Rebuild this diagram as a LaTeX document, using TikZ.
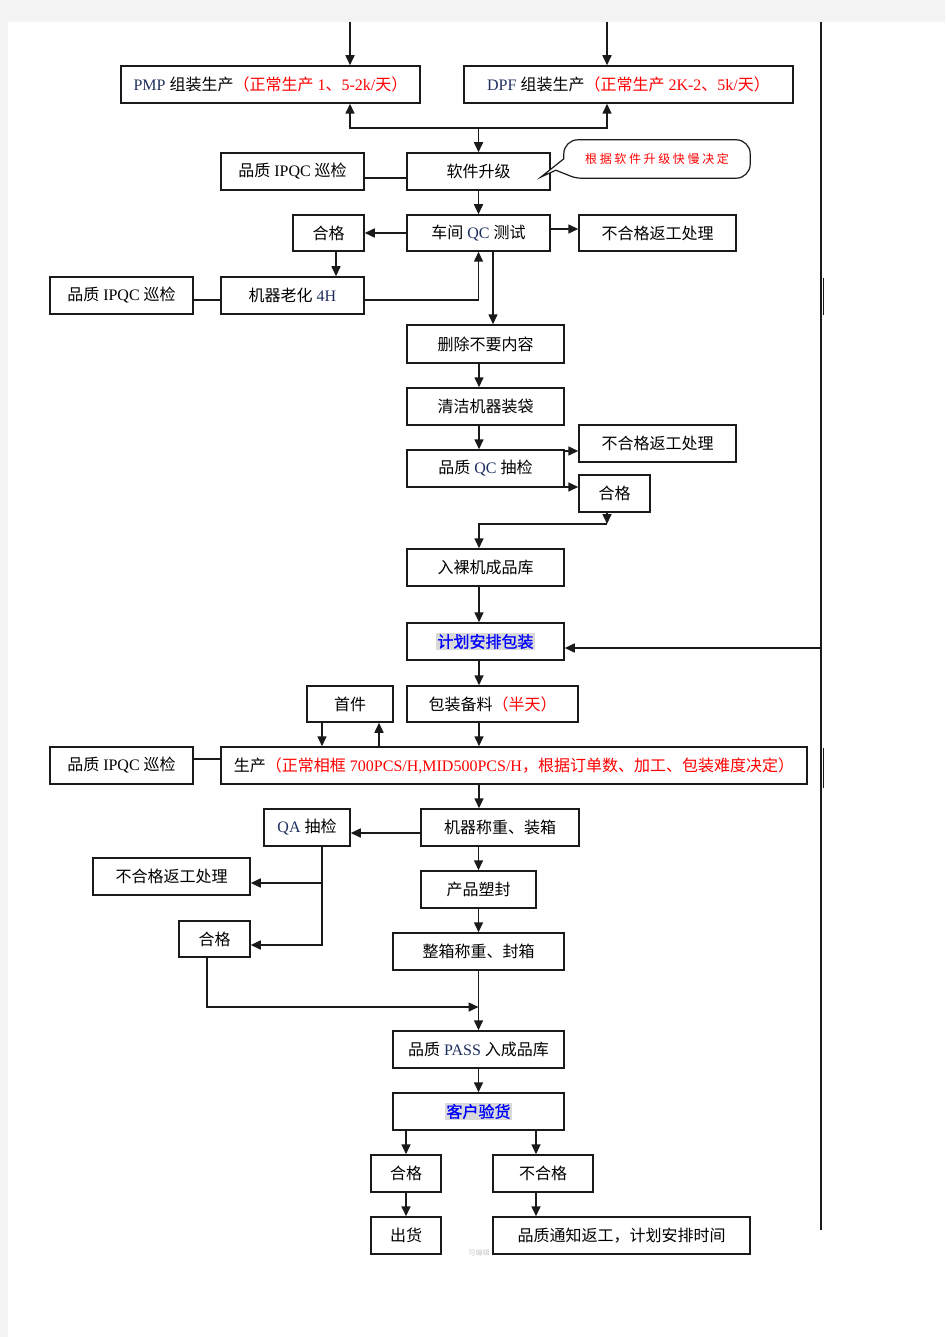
\documentclass[tikz,border=0pt]{standalone}
\usepackage{fontspec}
\setmainfont{Liberation Serif}
\newfontfamily\cjk{Noto Sans CJK SC}
\newfontfamily\cjkb[FakeBold=1.2]{Noto Sans CJK SC}
\newfontfamily\cjksp[LetterSpace=22]{Noto Sans CJK SC}
\usetikzlibrary{arrows.meta,calc}
\definecolor{red1}{HTML}{FF0000}
\definecolor{blue1}{HTML}{0000FF}
\definecolor{hl}{HTML}{D9D9D9}
\definecolor{navy}{HTML}{1F2F5F}
\definecolor{bg}{HTML}{F3F3F3}
\definecolor{ln}{HTML}{1A1A1A}
\newcommand\zh[1]{{\cjk #1}}
\newcommand\rd[1]{\textcolor{red1}{#1}}
\newcommand\hlb[1]{{\setlength\fboxsep{1.5pt}\colorbox{hl}{\cjkb\color{blue1}#1}}}
\tikzset{
  box/.style={draw=ln, line width=1.5pt, fill=white, inner sep=0pt,
    minimum height=37pt, font=\fontsize{16pt}{19pt}\selectfont},
  conn/.style={draw=ln, line width=1.6pt},
  arr/.style={conn, -{Triangle[length=10pt,width=9pt]}},
}
\begin{document}
\begin{tikzpicture}[x=1pt,y=-1pt]
\useasboundingbox (0,0) rectangle (945,1337);
\fill[bg] (0,0) rectangle (945,1337);
\fill[white] (8,22) rectangle (945,1337);

% nodes
\node[box, minimum width=299pt] (pmp) at (270.5,84.5) {{\color{navy}PMP} \zh{组装生产}\rd{\zh{（正常生产} 1\zh{、}5-2k/\zh{天）}}};
\node[box, minimum width=329pt] (dpf) at (628.5,84.5) {{\color{navy}DPF} \zh{组装生产}\rd{\zh{（正常生产} 2K-2\zh{、}5k/\zh{天）}}};
\node[box, minimum width=143pt] (rj) at (478.5,171.5) {\zh{软件升级}};
\node[box, minimum width=143pt] (ipqc1) at (292.5,171.5) {\zh{品质} IPQC \zh{巡检}};

% callout bubble
\coordinate (tip) at (541,177);
\node[minimum width=186pt, minimum height=38pt, inner sep=0pt] (note) at (657,159) {};
\draw[draw=ln, line width=1.2pt, fill=white]
  (tip) -- ([yshift=-19pt]note.north west)
  [rounded corners=14pt] -- (note.north west) -- (note.north east) -- (note.south east)
  [rounded corners=5pt] -- ([xshift=12pt]note.south west)
  [sharp corners] -- ([xshift=-8pt,yshift=8pt]note.south west) -- cycle;
\node[inner sep=0pt, font=\fontsize{12pt}{14pt}\selectfont\cjksp, text=red1] (notetext) at (note.center) {根据软件升级快慢决定};

\node[box, minimum width=143pt, minimum height=36pt] (qc) at (478.5,233) {\zh{车间} {\color{navy}QC} \zh{测试}};
\node[box, minimum width=71pt, minimum height=36pt] (hg1) at (328.5,233) {\zh{合格}};
\node[box, minimum width=157pt, minimum height=36pt] (bhg1) at (657.5,233) {\zh{不合格返工处理}};
\node[box, minimum width=143pt] (lh) at (292.5,295.5) {\zh{机器老化} {\color{navy}4H}};
\node[box, minimum width=143pt] (ipqc2) at (121.5,295.5) {\zh{品质} IPQC \zh{巡检}};
\node[box, minimum width=157pt, minimum height=38pt] (sc) at (485.5,344) {\zh{删除不要内容}};
\node[box, minimum width=157pt] (qj) at (485.5,406.5) {\zh{清洁机器装袋}};
\node[box, minimum width=157pt] (qcc) at (485.5,468.5) {\zh{品质} {\color{navy}QC} \zh{抽检}};
\node[box, minimum width=157pt] (bhg2) at (657.5,443.5) {\zh{不合格返工处理}};
\node[box, minimum width=71pt] (hg2) at (614.5,493.5) {\zh{合格}};
\node[box, minimum width=157pt] (rl) at (485.5,567.5) {\zh{入裸机成品库}};
\node[box, minimum width=157pt] (jh) at (485.5,641.5) {\hlb{计划安排包装}};
\node[box, minimum width=86pt, minimum height=36pt] (sj) at (350,704) {\zh{首件}};
\node[box, minimum width=171pt, minimum height=36pt] (bz) at (492.5,704) {\zh{包装备料}\rd{\zh{（半天）}}};
\node[box, minimum width=586pt] (prod) at (514,765.5) {\zh{生产}\rd{\zh{（正常相框} 700PCS/H,MID500PCS/H\zh{，根据订单数、加工、包装难度决定）}}};
\node[box, minimum width=143pt] (ipqc3) at (121.5,765.5) {\zh{品质} IPQC \zh{巡检}};
\node[box, minimum width=158pt] (cz) at (500,827.5) {\zh{机器称重、装箱}};
\node[box, minimum width=86pt] (qa) at (307,827.5) {{\color{navy}QA} \zh{抽检}};
\node[box, minimum width=157pt] (bhg3) at (171.5,876.5) {\zh{不合格返工处理}};
\node[box, minimum width=71pt, minimum height=36pt] (hg3) at (214.5,939) {\zh{合格}};
\node[box, minimum width=115pt] (sf) at (478.5,889.5) {\zh{产品塑封}};
\node[box, minimum width=171pt] (zx) at (478.5,951.5) {\zh{整箱称重、封箱}};
\node[box, minimum width=171pt] (pass) at (478.5,1049.5) {\zh{品质} {\color{navy}PASS} \zh{入成品库}};
\node[box, minimum width=171pt] (kh) at (478.5,1111.5) {\hlb{客户验货}};
\node[box, minimum width=70pt] (hg4) at (406,1173.5) {\zh{合格}};
\node[box, minimum width=100pt] (bhg4) at (543,1173.5) {\zh{不合格}};
\node[box, minimum width=70pt] (ch) at (406,1235.5) {\zh{出货}\hspace{12pt}};
\node[box, minimum width=257pt] (tz) at (621.5,1235.5) {\zh{品质通知返工，计划安排时间}\hspace{17pt}};
\node[text=black!22, font=\fontsize{7pt}{8pt}\selectfont\cjk, inner sep=0pt] (wm) at (479,1253) {可编辑};

% right vertical line
\coordinate (rtop) at (821,22);
\coordinate (rbot) at (821,1230);
\draw[conn] (rtop) -- (rbot);
\draw[line width=1pt, draw=ln] (823.5,278) -- (823.5,315);
\draw[line width=1pt, draw=ln] (823.5,748) -- (823.5,788);

% connectors
\coordinate (t1) at (350,22);
\coordinate (t2) at (607,22);
\draw[arr] (t1) -- (t1 |- pmp.north);
\draw[arr] (t2) -- (t2 |- dpf.north);
\coordinate (j1) at (478.5,128);
\draw[arr] (j1) -| (t1 |- pmp.south);
\draw[arr] (j1) -| (t2 |- dpf.south);
\draw[arr] (j1) -- (rj.north);
\draw[conn] ([yshift=-6.5pt]ipqc1.east) -- ([yshift=-6.5pt]rj.west);
\draw[arr] (rj.south) -- (qc.north);
\draw[arr] (qc.west) -- (hg1.east);
\draw[arr] ([yshift=4pt]qc.east) -- ([yshift=4pt]bhg1.west);
\draw[arr] ([xshift=7.5pt]hg1.south) -- ([xshift=7.5pt]hg1.south |- lh.north);
\draw[conn] ([yshift=-4.5pt]ipqc2.east) -- ([yshift=-4.5pt]lh.west);
\draw[arr] ([yshift=-4.5pt]lh.east) -| (qc.south);
\draw[arr] ([xshift=14.5pt]qc.south) -- ([xshift=14.5pt]qc.south |- sc.north);
\draw[arr] ([xshift=-6.5pt]sc.south) -- ([xshift=-6.5pt]qj.north);
\draw[arr] ([xshift=-6.5pt]qj.south) -- ([xshift=-6.5pt]qcc.north);
\path ([yshift=-7.5pt]bhg2.west) coordinate (b2in);
\draw[arr] (b2in -| qcc.east) -- (b2in);
\path ([yshift=6.5pt]hg2.west) coordinate (h2in);
\draw[arr] (h2in -| qcc.east) -- (h2in);
\path ([xshift=-7.5pt]hg2.south) coordinate (h2out);
\coordinate (bend1) at (607,524);
\draw[arr] (h2out) -- (bend1);
\draw[arr] (bend1) -| ([xshift=-6.5pt]rl.north);
\draw[arr] ([xshift=-6.5pt]rl.south) -- ([xshift=-6.5pt]jh.north);
\draw[arr] (rtop |- 0,648) -- (jh.east |- 0,648);
\draw[arr] ([xshift=-6.5pt]jh.south) -- ([xshift=-13.5pt]bz.north);
\draw[arr] ([xshift=-28pt]sj.south) -- ([xshift=-28pt]sj.south |- prod.north);
\draw[arr] ([xshift=29pt]sj.south |- prod.north) -- ([xshift=29pt]sj.south);
\draw[arr] ([xshift=-13.5pt]bz.south) -- ([xshift=-13.5pt]bz.south |- prod.north);
\draw[conn] ([yshift=6.5pt]ipqc3.east) -- ([yshift=6.5pt]ipqc3.east -| prod.west);
\draw[arr] ([xshift=-21pt]cz.north |- prod.south) -- ([xshift=-21pt]cz.north);
\draw[arr] ([yshift=-5.5pt]cz.west) -- ([yshift=-5.5pt]qa.east);
\path ([xshift=15pt]qa.south) coordinate (qaout);
\path ([yshift=-6.5pt]bhg3.east) coordinate (b3in);
\path ([yshift=-6pt]hg3.east) coordinate (h3in);
\draw[arr] (qaout) |- (h3in);
\draw[arr] (qaout |- b3in) -- (b3in);
\coordinate (m2) at (478.5,1007);
\draw[arr] ([xshift=-7.5pt]hg3.south) |- (m2);
\draw[arr] (cz.south -| sf.north) -- (sf.north);
\draw[arr] (sf.south) -- (zx.north);
\draw[arr] (zx.south) -- (pass.north);
\draw[arr] (pass.south) -- (kh.north);
\draw[arr] (hg4.north |- kh.south) -- (hg4.north);
\draw[arr] ([xshift=-7pt]bhg4.north |- kh.south) -- ([xshift=-7pt]bhg4.north);
\draw[arr] (hg4.south) -- (ch.north);
\draw[arr] ([xshift=-7pt]bhg4.south) -- ([xshift=-7pt]bhg4.south |- tz.north);
\end{tikzpicture}
\end{document}
